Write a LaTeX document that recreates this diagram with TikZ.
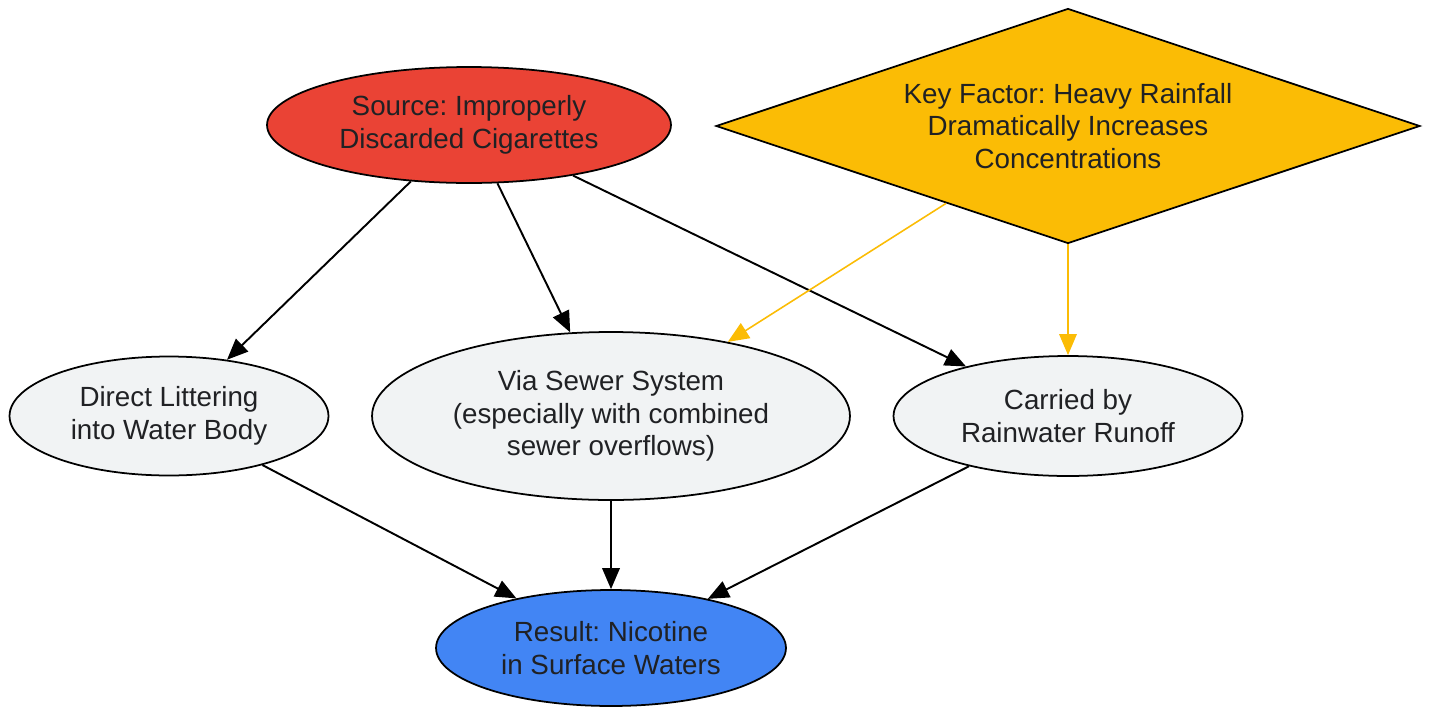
\documentclass[tikz,border=0pt]{standalone}
\usepackage{fontspec}
\setmainfont{Liberation Sans}
\usepackage{tikz}
\usetikzlibrary{shapes.geometric,arrows.meta}
\definecolor{srcred}{HTML}{EA4335}
\definecolor{keyyellow}{HTML}{FBBC05}
\definecolor{pathgray}{HTML}{F1F3F4}
\definecolor{resblue}{HTML}{4285F4}
\definecolor{txtgray}{HTML}{202124}
\frenchspacing
\begin{document}
\begin{tikzpicture}[x=0.02cm,y=-0.02cm]
              \tikzstyle{every node}+=[inner sep=0pt, text=txtgray, align=center, font=\fontsize{15.8}{18.6}\selectfont]
              \tikzstyle{oval}=[ellipse, draw=black, line width=1pt]
              \tikzstyle{edge}=[draw=black, line width=1.1pt, -{Triangle[length=12pt,width=10pt]}]
              \tikzstyle{keyedge}=[draw=keyyellow, line width=0.9pt, -{Triangle[length=12pt,width=10pt]}]
              \useasboundingbox (0,0) rectangle (1431,707);
              \node [oval, fill=srcred, minimum width=8.08cm, minimum height=2.32cm] (source) at (469,125) {Source: Improperly\\Discarded Cigarettes};
              \node [diamond, aspect=3, draw=black, line width=1pt, fill=keyyellow, minimum width=14.08cm, minimum height=4.7cm] (key) at (1068,126) {Key Factor: Heavy Rainfall\\Dramatically Increases\\Concentrations};
              \node [oval, fill=pathgray, minimum width=6.38cm, minimum height=2.38cm] (direct) at (169,416) {Direct Littering\\into Water Body};
              \node [oval, fill=pathgray, minimum width=9.56cm, minimum height=3.36cm] (sewer) at (611,416) {Via Sewer System\\(especially with combined\\sewer overflows)};
              \node [oval, fill=pathgray, minimum width=6.98cm, minimum height=2.4cm] (runoff) at (1068,416) {Carried by\\Rainwater Runoff};
              \node [oval, fill=resblue, minimum width=7.0cm, minimum height=2.32cm] (result) at (611,648) {Result: Nicotine\\in Surface Waters};
              \draw [edge] (source) -- (direct);
              \draw [edge] (source) -- (sewer);
              \draw [edge] (source) -- (runoff);
              \draw [keyedge] (key) -- (sewer);
              \draw [keyedge] (key) -- (runoff);
              \draw [edge] (direct) -- (result);
              \draw [edge] (sewer) -- (result);
              \draw [edge] (runoff) -- (result);
            \end{tikzpicture}
\end{document}
